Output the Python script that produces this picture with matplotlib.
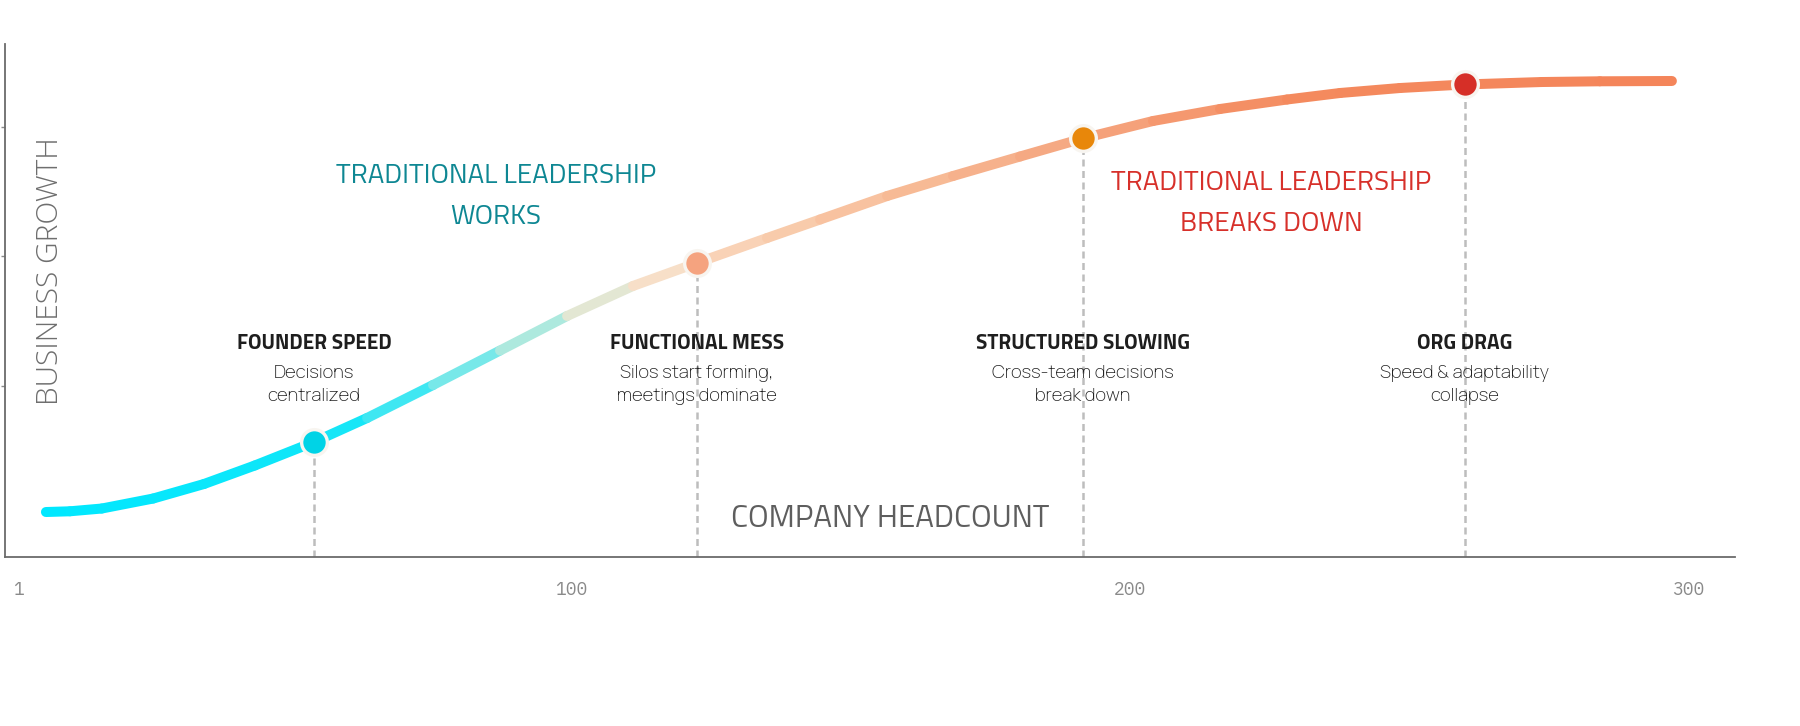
import matplotlib
matplotlib.use("Agg")
import numpy as np
import matplotlib.pyplot as plt
from matplotlib import font_manager as fm
from matplotlib.collections import LineCollection
from matplotlib.colors import LinearSegmentedColormap

# ---- data ----
headcount = [6.0, 10.3, 16.0, 25.2, 34.3, 43.4, 54.0, 63.5, 75.3, 87.3, 99.3,
             111.1, 122.5, 135.1, 144.6, 156.6, 168.4, 180.4, 191.6, 204.2,
             216.2, 228.2, 237.7, 248.4, 260.0, 273.8, 284.2, 297.1]
growth = [8.77, 8.91, 9.45, 11.40, 14.23, 17.84, 22.42, 27.10, 33.53, 40.25,
          46.98, 52.83, 57.31, 62.18, 65.79, 70.37, 74.27, 78.07, 81.58, 84.99,
          87.33, 89.18, 90.45, 91.42, 92.11, 92.59, 92.73, 92.79]

stage_x = [54.0, 122.5, 191.6, 260.0]
stage_y = [22.42, 57.31, 81.58, 92.11]
stage_titles = ["FOUNDER SPEED", "FUNCTIONAL MESS", "STRUCTURED SLOWING", "ORG DRAG"]
stage_notes = ["Decisions\ncentralized", "Silos start forming,\nmeetings dominate",
               "Cross-team decisions\nbreak down", "Speed & adaptability\ncollapse"]
stage_colors = ["#00D3E6", "#F5A37F", "#E8870A", "#D62F27"]

x_ticks = [1, 100, 200, 300]
x_tick_labels = ["1", "100", "200", "300"]
y_ticks = [33.3, 58.7, 83.8]


def pick(*names):
    have = {f.name for f in fm.fontManager.ttflist}
    for n in names:
        if n in have:
            return n
    return "DejaVu Sans"


TITLE_FONT = pick("Titillium Web", "Roboto Condensed", "Liberation Sans Narrow", "Roboto")
NOTE_FONT = pick("Manrope", "Inter", "Roboto")
AXIS_FONT = pick("Open Sans", "Lato", "Roboto")
MONO_FONT = pick("IBM Plex Mono", "Source Code Pro", "DejaVu Sans Mono")

# gradient along the curve (position in headcount units -> colour)
grad_stops = [(6, "#00E8FF"), (57, "#10E6F8"), (73, "#50E8F0"), (91, "#A5E9E0"),
              (105, "#E2E7D3"), (114, "#F6E2CC"), (127, "#F9D4B8"), (159, "#F7BC98"),
              (193, "#F5A47E"), (230, "#F48A5E"), (297, "#F4845A")]
lo, hi = grad_stops[0][0], grad_stops[-1][0]
cmap = LinearSegmentedColormap.from_list(
    "growth", [((p - lo) / (hi - lo), c) for p, c in grad_stops])

fig = plt.figure(figsize=(18, 7.26), dpi=100)
ax = fig.add_axes([5 / 1800, 169 / 726, 1730 / 1800, 513 / 726])
ax.set_xlim(-1.33, 308.4)
ax.set_ylim(0, 100)

for s in ["top", "right"]:
    ax.spines[s].set_visible(False)
for s in ["left", "bottom"]:
    ax.spines[s].set_color("#6B6B6B")
    ax.spines[s].set_linewidth(1.3)

ax.set_xticks(x_ticks)
ax.set_xticklabels(x_tick_labels, family=MONO_FONT, fontsize=13, color="#8A8A8A")
ax.tick_params(axis="x", length=0, pad=17)
ax.set_yticks(y_ticks)
ax.set_yticklabels([])
ax.tick_params(axis="y", length=3, width=1, color="#8A8A8A", direction="out")

# curve with colour gradient
pts = np.column_stack([headcount, growth])
segs = np.stack([pts[:-1], pts[1:]], axis=1)
mids = (pts[:-1, 0] + pts[1:, 0]) / 2
lc = LineCollection(segs, colors=cmap((mids - lo) / (hi - lo)), linewidths=7.2,
                    capstyle="round", joinstyle="round", zorder=3)
ax.add_collection(lc)

# stage markers, drop lines and labels
for x, y, title, note, col in zip(stage_x, stage_y, stage_titles, stage_notes, stage_colors):
    ax.vlines(x, 0, y, colors="#BDBDBD", linewidth=1.8, linestyles=(0, (2.8, 1.8)), zorder=1)
    ax.plot(x, y, "o", ms=18.5, color=col, mec="#F8F5F0", mew=2.4, zorder=5)
    ax.text(x, 41.5, title, ha="center", va="center", family=TITLE_FONT,
            fontweight="bold", fontsize=15, color="#1E1E1E", zorder=4)
    ax.text(x, 33.5, note, ha="center", va="center", family=NOTE_FONT,
            fontsize=13.3, color="#222222", linespacing=1.5, zorder=4)

ax.text(86.6, 70.2, "TRADITIONAL LEADERSHIP\nWORKS", ha="center", va="center",
        family=TITLE_FONT, fontweight="normal", fontsize=20, color="#0E8793",
        linespacing=1.75)
ax.text(225.4, 69.0, "TRADITIONAL LEADERSHIP\nBREAKS DOWN", ha="center", va="center",
        family=TITLE_FONT, fontweight="normal", fontsize=20, color="#D7302A",
        linespacing=1.75)

ax.text(157.1, 7.5, "COMPANY HEADCOUNT", ha="center", va="center",
        family=TITLE_FONT, fontweight="normal", fontsize=22.5, color="#5E5E5E")
ax.text(6.7, 55.7, "BUSINESS GROWTH", ha="center", va="center", rotation=90,
        family=AXIS_FONT, fontweight="light", fontsize=21.5, color="#6E6E6E")

fig.savefig("out.png", dpi=100, facecolor="white")
